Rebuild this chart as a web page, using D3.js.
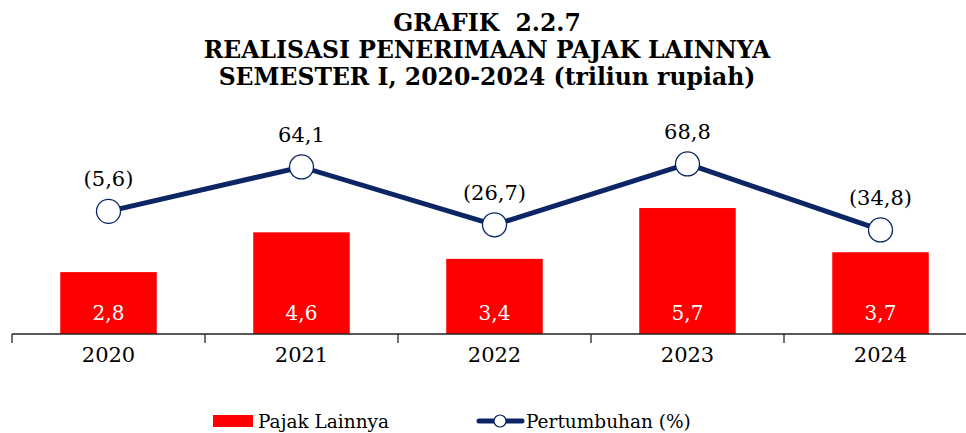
<!DOCTYPE html>
<html>
<head>
    <title>Grafik 2.2.7</title>
</head>
<body style="margin:0">
<style type="text/css">
    body { background: #fff; }
    #renderer { width: 966px; height: 433px; background: #FFF; display: block; }
    text { font-family: "DejaVu Serif", serif; white-space: pre; }
</style>
<script type="text/javascript" src="https://cdnjs.cloudflare.com/ajax/libs/d3/7.8.5/d3.min.js"></script>
<svg id='renderer'></svg>

<script type="text/javascript">
    // data
    var years = ['2020', '2021', '2022', '2023', '2024'];
    var pajakLainnya = [2.8, 4.6, 3.4, 5.7, 3.7];
    var pertumbuhan = [-5.6, 64.1, -26.7, 68.8, -34.8];
    var titleLines = ['GRAFIK  2.2.7', 'REALISASI PENERIMAAN PAJAK LAINNYA', 'SEMESTER I, 2020-2024 (triliun rupiah)'];

    var root = d3.select('#renderer');
    var totalWidth = 966;
    var baseY = 334;

    // format 2.8 -> "2,8", negatives in brackets
    function fmt(v) {
        var s = Math.abs(v).toFixed(1).replace('.', ',');
        return v < 0 ? '(' + s + ')' : s;
    }

    // title
    root.selectAll('text.title')
        .data(titleLines)
        .enter().append('text')
        .attr('class', 'title')
        .text(function (d) { return d; })
        .attr('x', 487)
        .attr('y', function (d, i) { return 31 + i * 27; })
        .attr('font-size', 23.5)
        .attr('font-weight', 'bold')
        .attr('text-anchor', 'middle');

    var x = d3.scaleBand()
        .domain(years)
        .range([12, 12 + 193 * years.length]);

    var yBar = d3.scaleLinear()
        .domain([0, 6])
        .range([baseY, baseY - 6 * 22.1]);

    var yLine = d3.scaleLinear()
        .domain([-40, 80])
        .range([207.8 + 40 * 0.637, 207.8 - 80 * 0.637]);

    // bars
    root.selectAll('rect.bar')
        .data(pajakLainnya)
        .enter().append('rect')
        .attr('class', 'bar')
        .attr('x', function (d, i) { return x(years[i]) + x.bandwidth() / 4; })
        .attr('y', function (d) { return yBar(d); })
        .attr('width', x.bandwidth() / 2)
        .attr('height', function (d) { return baseY - yBar(d); })
        .attr('fill', '#FF0000');

    root.selectAll('text.barval')
        .data(pajakLainnya)
        .enter().append('text')
        .attr('class', 'barval')
        .text(fmt)
        .attr('x', function (d, i) { return x(years[i]) + x.bandwidth() / 2; })
        .attr('y', baseY - 14)
        .attr('fill', '#fff')
        .attr('font-size', 20)
        .attr('text-anchor', 'middle');

    // axis
    root.append('line')
        .attr('x1', 12).attr('x2', totalWidth)
        .attr('y1', baseY).attr('y2', baseY)
        .attr('stroke', '#222').attr('stroke-width', 1.3);

    var tickXs = years.map(function (d) { return x(d); });
    tickXs.push(x.range()[1]);
    root.selectAll('line.tick')
        .data(tickXs)
        .enter().append('line')
        .attr('class', 'tick')
        .attr('x1', function (d) { return d; }).attr('x2', function (d) { return d; })
        .attr('y1', baseY).attr('y2', baseY + 9)
        .attr('stroke', '#222').attr('stroke-width', 1.3);

    root.selectAll('text.year')
        .data(years)
        .enter().append('text')
        .attr('class', 'year')
        .text(function (d) { return d; })
        .attr('x', function (d) { return x(d) + x.bandwidth() / 2; })
        .attr('y', 362)
        .attr('font-size', 21)
        .attr('text-anchor', 'middle');

    // growth line
    var line = d3.line()
        .x(function (d, i) { return x(years[i]) + x.bandwidth() / 2; })
        .y(function (d) { return yLine(d); });

    root.append('path')
        .datum(pertumbuhan)
        .attr('d', line)
        .attr('fill', 'none')
        .attr('stroke', '#0B2565')
        .attr('stroke-width', 5);

    root.selectAll('circle.pt')
        .data(pertumbuhan)
        .enter().append('circle')
        .attr('class', 'pt')
        .attr('cx', function (d, i) { return x(years[i]) + x.bandwidth() / 2; })
        .attr('cy', function (d) { return yLine(d); })
        .attr('r', 12)
        .attr('fill', '#fff')
        .attr('stroke', '#0B2565')
        .attr('stroke-width', 1.3);

    root.selectAll('text.ptval')
        .data(pertumbuhan)
        .enter().append('text')
        .attr('class', 'ptval')
        .text(fmt)
        .attr('x', function (d, i) { return x(years[i]) + x.bandwidth() / 2; })
        .attr('y', function (d) { return yLine(d) - 25; })
        .attr('font-size', 21)
        .attr('text-anchor', 'middle');

    // legend
    root.append('rect')
        .attr('x', 213).attr('y', 415)
        .attr('width', 40).attr('height', 12)
        .attr('fill', '#FF0000');
    root.append('text')
        .text('Pajak Lainnya')
        .attr('x', 258).attr('y', 428)
        .attr('font-size', 18.5);

    root.append('line')
        .attr('x1', 479).attr('x2', 522)
        .attr('y1', 421).attr('y2', 421)
        .attr('stroke', '#0B2565').attr('stroke-width', 5)
        .attr('stroke-linecap', 'round');
    root.append('circle')
        .attr('cx', 500).attr('cy', 421).attr('r', 6)
        .attr('fill', '#fff')
        .attr('stroke', '#0B2565').attr('stroke-width', 1.2);
    root.append('text')
        .text('Pertumbuhan (%)')
        .attr('x', 526).attr('y', 428)
        .attr('font-size', 18.5);
</script>
</body>
</html>
